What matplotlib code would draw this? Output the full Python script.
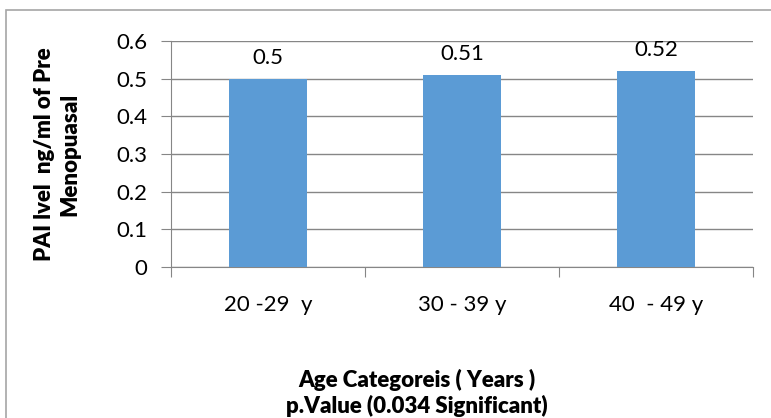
import matplotlib
matplotlib.use('Agg')
import matplotlib.pyplot as plt
from matplotlib.patches import Rectangle

categories = ['20 -29  y', '30 - 39 y', '40  - 49 y']
values = [0.50, 0.51, 0.52]
value_labels = ['0.5', '0.51', '0.52']
y_ticks = [0, 0.1, 0.2, 0.3, 0.4, 0.5, 0.6]
y_tick_labels = ['0', '0.1', '0.2', '0.3', '0.4', '0.5', '0.6']

plt.rcParams['font.family'] = ['Lato', 'DejaVu Sans']

fig = plt.figure(figsize=(7.71, 4.18), dpi=100)
ax = fig.add_axes([0.2218, 0.3612, 0.7549, 0.5407])

# outer chart border (right and bottom are cut off in the original)
fig.patches.append(Rectangle((6 / 771, -0.1), 1.2, 1 - 10 / 418 + 0.1,
                             transform=fig.transFigure, fill=False,
                             edgecolor='#a6a6a6', lw=1.2))

x = list(range(len(categories)))
ax.bar(x, values, width=0.4, color='#5b9bd5', zorder=3)
for xi, v, lab in zip(x, values, value_labels):
    ax.annotate(lab, (xi, v), xytext=(0, 8), textcoords='offset points',
                ha='center', va='bottom', fontsize=16, color='black')

ax.set_xlim(-0.5, 2.5)
ax.set_ylim(0, 0.6)
ax.set_yticks(y_ticks)
ax.set_yticklabels(y_tick_labels)
ax.set_xticks([-0.5, 0.5, 1.5, 2.5])
ax.set_xticklabels([])
ax.set_xticks(x, minor=True)
ax.set_xticklabels(categories, minor=True)
ax.tick_params(axis='x', which='minor', length=0, pad=20, labelsize=16)
ax.tick_params(axis='x', which='major', length=7, color='#868686')
ax.tick_params(axis='y', length=7, color='#868686', pad=10, labelsize=16)

ax.grid(axis='y', color='#868686', lw=1, zorder=0)
for s in ['top', 'right']:
    ax.spines[s].set_visible(False)
for s in ['left', 'bottom']:
    ax.spines[s].set_color('#868686')

ax.set_ylabel('PAI lvel  ng/ml of Pre\nMenopuasal', fontsize=16,
              fontweight='heavy', labelpad=26, linespacing=1.25)

fig.text(417 / 771, 1 - 393 / 418,
         'Age Categoreis ( Years )\np.Value (0.034 Significant)',
         ha='center', va='center', fontsize=16, fontweight='heavy',
         linespacing=1.25)

fig.savefig('out.png', dpi=100)
